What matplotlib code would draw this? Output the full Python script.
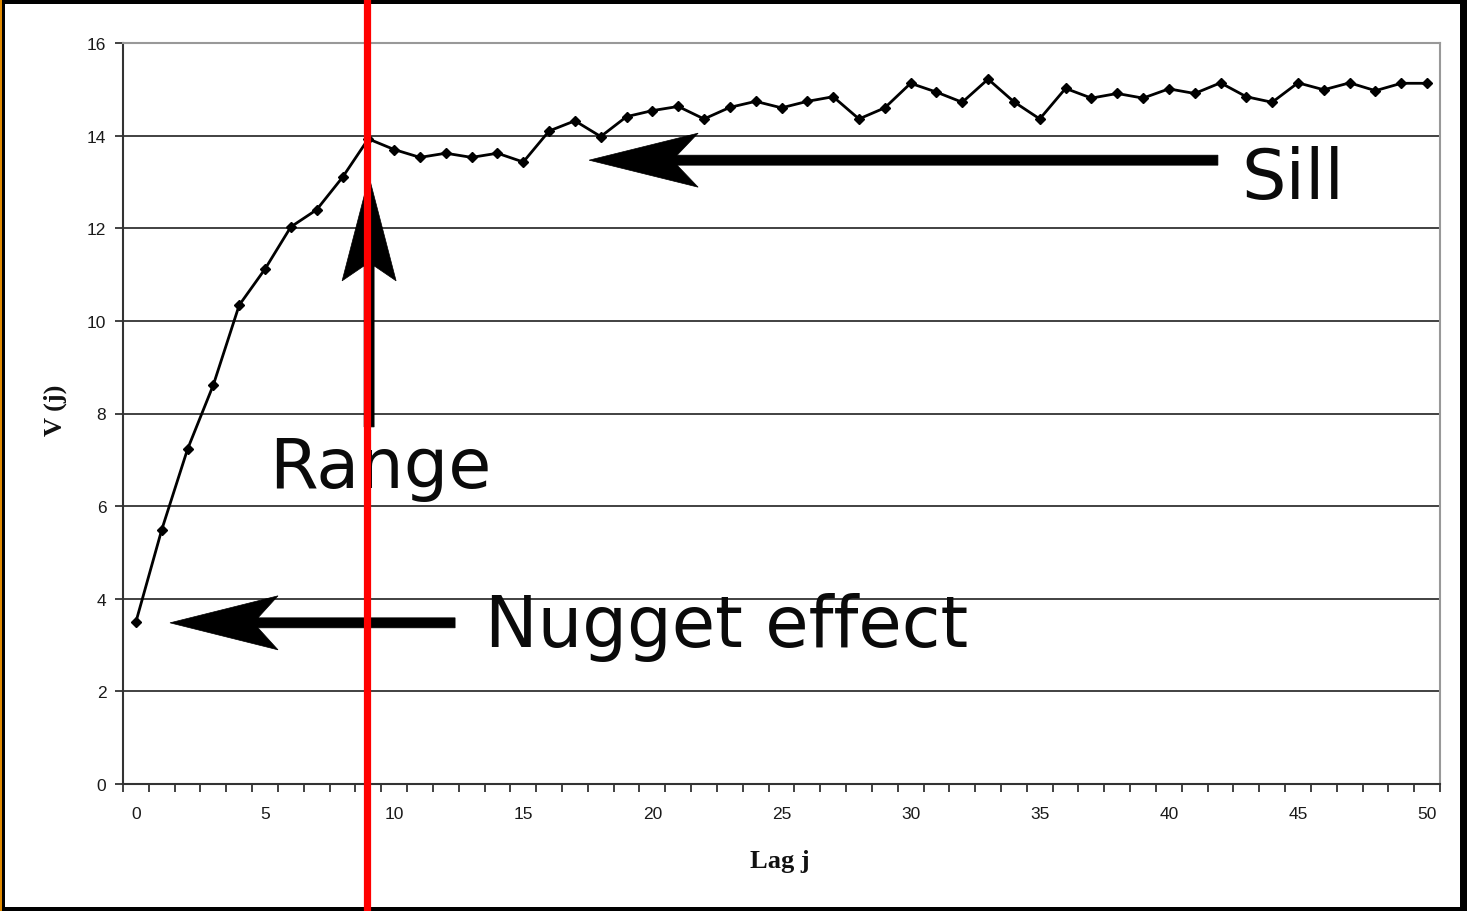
import matplotlib
matplotlib.use("Agg")
import matplotlib.pyplot as plt
import numpy as np
from matplotlib.patches import Polygon, Rectangle
from matplotlib.lines import Line2D
from matplotlib.transforms import blended_transform_factory, IdentityTransform

# Experimental variogram V(j) against lag j
lags = list(range(0, 51))
variogram = [
    3.50, 5.49, 7.23, 8.62, 10.34, 11.12, 12.03, 12.40, 13.10, 13.93,
    13.70, 13.53, 13.62, 13.53, 13.62, 13.43, 14.10, 14.32, 13.98, 14.41,
    14.54, 14.63, 14.36, 14.61, 14.74, 14.60, 14.74, 14.84, 14.36, 14.60,
    15.13, 14.94, 14.72, 15.22, 14.73, 14.36, 15.02, 14.81, 14.91, 14.81,
    15.01, 14.91, 15.14, 14.84, 14.72, 15.14, 14.99, 15.14, 14.97, 15.13,
    15.13,
]
x_tick_values = [0, 5, 10, 15, 20, 25, 30, 35, 40, 45, 50]
y_tick_values = [0, 2, 4, 6, 8, 10, 12, 14, 16]
range_lag = 9

W, H, DPI = 1467, 912, 100
fig = plt.figure(figsize=(W / DPI, H / DPI), dpi=DPI)
fig.patch.set_facecolor("white")

ax = fig.add_axes([123 / W, 1 - 785 / H, 1317 / W, 741 / H])
ax.set_xlim(-0.5, 50.5)
ax.set_ylim(0, 16)

# horizontal grid
ax.set_yticks(y_tick_values)
ax.yaxis.grid(True, color="#333333", linewidth=1.3)
ax.set_axisbelow(True)

# category-style x axis: ticks between categories, labels on categories
ax.set_xticks(x_tick_values)
ax.set_xticks(np.arange(-0.5, 51, 1.0), minor=True)
ax.tick_params(axis="x", which="major", length=0, pad=16,
               labelsize=12.5, labelcolor="#1a1a1a")
ax.tick_params(axis="x", which="minor", length=6, width=1.3,
               direction="out", color="#333333")
ax.tick_params(axis="y", which="major", length=6, width=1.3,
               direction="out", color="#333333", pad=6,
               labelsize=12.5, labelcolor="#1a1a1a")
for lab in ax.get_xticklabels() + ax.get_yticklabels():
    lab.set_fontfamily("Liberation Sans")

for side in ("left", "bottom"):
    ax.spines[side].set_color("#333333")
    ax.spines[side].set_linewidth(1.5)
for side in ("top", "right"):
    ax.spines[side].set_color("#999999")
    ax.spines[side].set_linewidth(1.5)

ax.plot(lags, variogram, color="black", linewidth=2.0, marker="D",
        markersize=5.5, markerfacecolor="black", markeredgecolor="black",
        zorder=3)

label_font = dict(family="Liberation Serif", weight="bold", size=19,
                  color="#111111")
ax.set_xlabel("Lag j", **label_font)
ax.xaxis.set_label_coords(0.499, -0.1026)
ax.xaxis.label.set_va("center")
ax.set_ylabel("V (j)", **label_font)
ax.yaxis.set_label_coords(-0.0516, 0.506)
ax.yaxis.label.set_va("center")


def notched_arrow(tip, tail, head_len=108, notch=88, half_w=27, shaft=5):
    """Solid arrow with a swept-back head, sized in pixels."""
    fig.canvas.draw()
    p_tip = ax.transData.transform(tip)
    p_tail = ax.transData.transform(tail)
    d = p_tail - p_tip
    u = d / np.hypot(*d)
    n = np.array([-u[1], u[0]])
    pts = [
        p_tip,
        p_tip + u * head_len + n * half_w,
        p_tip + u * notch + n * shaft,
        p_tail + n * shaft,
        p_tail - n * shaft,
        p_tip + u * notch - n * shaft,
        p_tip + u * head_len - n * half_w,
    ]
    ax.add_patch(Polygon(pts, closed=True, facecolor="black",
                         edgecolor="black", linewidth=0.5,
                         transform=IdentityTransform(), clip_on=False,
                         zorder=5))


notched_arrow((17.55, 13.47), (41.90, 13.47), head_len=109, notch=88)
notched_arrow((9.03, 13.11), (9.03, 7.71), head_len=104, notch=89)
notched_arrow((1.32, 3.48), (12.36, 3.48), head_len=108, notch=88)

big = dict(family="DejaVu Sans", color="#0a0a0a",
           ha="left", va="baseline", zorder=6)
ax.text(42.80, 12.65, "Sill", size=50.5, **big)
ax.text(5.17, 6.41, "Range", size=50.5, **big)
ax.text(13.5, 2.98, "Nugget effect", size=50.8, **big)

# outer frame
frame = [
    (0, 0, 5 / W, 1),            # left
    (0, 1 - 5 / H, 1, 5 / H),    # top
    (1 - 7 / W, 0, 7 / W, 1),    # right
    (0, 0, 1, 4 / H),            # bottom
]
for x0, y0, w, h in frame:
    fig.patches.append(Rectangle((x0, y0), w, h, transform=fig.transFigure,
                                 facecolor="black", edgecolor="none",
                                 zorder=10))
fig.patches.append(Rectangle((0, 0), 1.5 / W, 1, transform=fig.transFigure,
                             facecolor="#E08A00", edgecolor="none",
                             zorder=11))

# range marker spanning the whole figure height
trans = blended_transform_factory(ax.transData, fig.transFigure)
fig.lines.append(Line2D([range_lag - 0.05, range_lag - 0.05], [0, 1],
                        transform=trans, color="#FF0000", linewidth=5.2,
                        zorder=20))

fig.savefig("out.png", dpi=DPI, facecolor="white")
